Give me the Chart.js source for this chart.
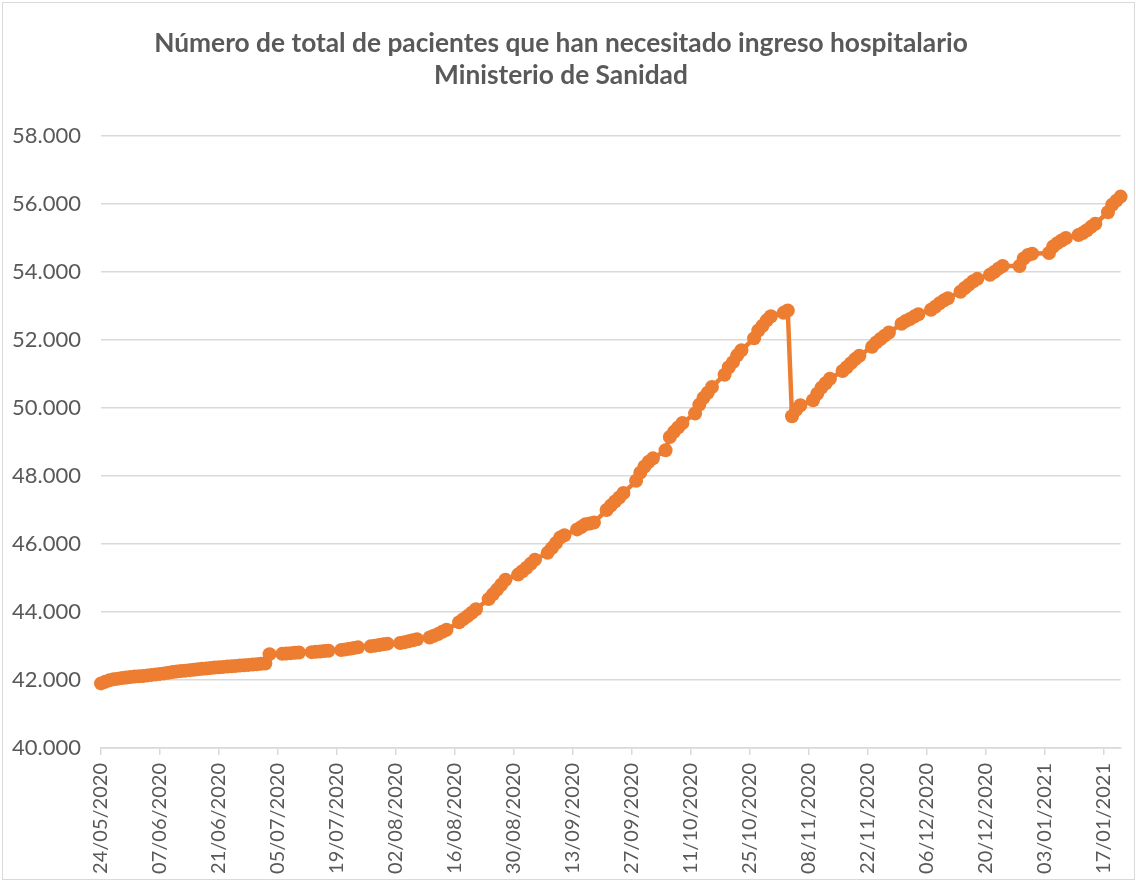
<!DOCTYPE html>
<html>
  <head>
    <meta charset="utf-8">
    <title>Ingresos hospitalarios</title>
    <script src="https://cdn.jsdelivr.net/npm/chart.js@4.4.1/dist/chart.umd.min.js"></script>
    <style>
      html, body { margin: 0; padding: 0; background: #fff; }
      .marco {
        position: absolute;
        left: 2px; top: 2px;
        width: 1131px; height: 876px;
        border: 1px solid #d9d9d9;
        pointer-events: none;
      }
      canvas { position: absolute; left: 0; top: 0; }
    </style>
  </head>
  <body>
    <canvas id="canvas" width="1136" height="881"></canvas>
    <div class="marco"></div>
    <script>
      // etiquetas del eje X (una cada 14 dias, empezando el 24/05/2020)
      var fechasEje = [
        '24/05/2020', '07/06/2020', '21/06/2020', '05/07/2020', '19/07/2020',
        '02/08/2020', '16/08/2020', '30/08/2020', '13/09/2020', '27/09/2020',
        '11/10/2020', '25/10/2020', '08/11/2020', '22/11/2020', '06/12/2020',
        '20/12/2020', '03/01/2021', '17/01/2021'
      ];
      var ultimoDia = 242; // 21/01/2021

      // total acumulado, un valor por dia desde el 24/05/2020 (dom..sab), null = sin dato
      var ingresos = [
        41900, 41950, 41990, 42020, 42040, 42060, 42075,
        42090, 42100, 42110, 42120, 42135, 42150, 42165,
        42180, 42195, 42215, 42235, 42250, 42262, 42275,
        42290, 42300, 42315, 42330, 42340, 42350, 42365,
        42375, 42385, 42395, 42405, 42415, 42425, 42435,
        42445, 42455, 42465, 42475, 42485, 42760, null,
        null, 42770, 42780, 42790, 42800, 42810, null,
        null, 42820, 42830, 42840, 42850, 42860, null,
        null, 42880, 42900, 42920, 42940, 42960, null,
        null, 42990, 43010, 43030, 43050, 43070, null,
        null, 43090, 43110, 43140, 43170, 43200, null,
        null, 43250, 43300, 43350, 43420, 43480, null,
        null, 43700, 43790, 43880, 43980, 44080, null,
        null, 44380, 44520, 44660, 44800, 44950, null,
        null, 45100, 45200, 45300, 45420, 45540, null,
        null, 45740, 45880, 46030, 46190, 46260, null,
        null, 46430, 46500, 46580, 46600, 46630, null,
        null, 47000, 47130, 47250, 47370, 47500, null,
        null, 47860, 48100, 48280, 48420, 48520, null,
        null, 48760, 49150, 49300, 49430, 49560, null,
        null, 49840, 50100, 50300, 50450, 50620, null,
        null, 50980, 51200, 51350, 51550, 51700, null,
        null, 52050, 52280, 52420, 52580, 52700, null,
        null, 52800, 52870, 49760, 49950, 50080, null,
        null, 50230, 50420, 50600, 50730, 50860, null,
        null, 51090, 51200, 51320, 51440, 51540, null,
        null, 51800, 51930, 52030, 52130, 52220, null,
        null, 52480, 52560, 52620, 52690, 52760, null,
        null, 52890, 52980, 53080, 53160, 53230, null,
        null, 53420, 53530, 53630, 53730, 53800, null,
        null, 53920, 54000, 54100, 54180, null, null,
        null, 54180, 54400, 54500, 54540, null, null,
        null, 54560, 54750, 54850, 54930, 55000, null,
        null, 55090, 55150, 55230, 55330, 55420, null,
        null, 55760, 55980, 56100, 56220
      ];

      var fuente = 'Lato, "Open Sans", sans-serif';
      var gris = '#595959';
      var rejilla = '#d9d9d9';
      var naranja = '#ED7D31';

      function miles(v) {
        return String(v).replace(/\B(?=(\d{3})+(?!\d))/g, '.');
      }

      var puntos = [];
      ingresos.forEach(function (v, i) {
        if (v !== null) puntos.push({ x: i, y: v });
      });

      var ctx = document.getElementById('canvas').getContext('2d');
      new Chart(ctx, {
        type: 'line',
        data: {
          datasets: [{
            data: puntos,
            borderColor: naranja,
            backgroundColor: naranja,
            borderWidth: 4.5,
            borderJoinStyle: 'round',
            borderCapStyle: 'round',
            pointRadius: 7,
            pointBorderWidth: 0,
            pointBackgroundColor: naranja,
            tension: 0,
            clip: false
          }]
        },
        options: {
          responsive: false,
          animation: false,
          layout: { padding: { left: 0, right: 14, top: 0, bottom: 0 } },
          plugins: {
            legend: { display: false },
            tooltip: { enabled: false },
            title: {
              display: true,
              text: ['Número de total de pacientes que han necesitado ingreso hospitalario', 'Ministerio de Sanidad'],
              color: gris,
              font: { family: fuente, size: 26.3, weight: 'bold', lineHeight: 1.18 },
              padding: { top: 28.5, bottom: 45.5 }
            }
          },
          scales: {
            x: {
              type: 'linear',
              min: 0,
              max: ultimoDia,
              afterBuildTicks: function (scale) {
                scale.ticks = fechasEje.map(function (_, i) { return { value: i * 14 }; });
              },
              afterFit: function (scale) { scale.height = 881 - 748; },
              grid: {
                drawOnChartArea: false,
                drawTicks: true,
                tickLength: 7,
                color: rejilla,
                lineWidth: 1.5
              },
              border: { display: true, color: rejilla, width: 1.5 },
              ticks: {
                autoSkip: false,
                maxRotation: 90,
                minRotation: 90,
                padding: 8,
                color: gris,
                font: { family: fuente, size: 20 },
                callback: function (v) { return fechasEje[v / 14]; }
              }
            },
            y: {
              min: 40000,
              max: 58000,
              afterFit: function (scale) { scale.width = 101; },
              grid: { color: rejilla, lineWidth: 1.5, drawTicks: false },
              border: { display: false },
              ticks: {
                stepSize: 2000,
                padding: 20,
                color: gris,
                font: { family: fuente, size: 22 },
                callback: function (v) { return miles(v); }
              }
            }
          }
        }
      });
    </script>
  </body>
</html>
